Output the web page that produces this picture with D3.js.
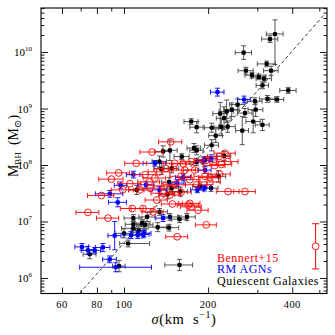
<!DOCTYPE html>
<html>
<head>
<meta charset="utf-8">
<script src="https://cdn.jsdelivr.net/npm/d3@7"></script>
<style>
  body { margin: 0; background: #fff; }
  svg { display: block; }
  text { font-family: "Liberation Serif", "DejaVu Serif", serif; fill: #000; }
  .frame { fill: none; stroke: #000; stroke-width: 1.1; }
  .axis path { display: none; }
  .axis line { stroke: #000; stroke-width: 0.9; }
</style>
</head>
<body>
<script>
// rows: [sigma (km/s), log M_BH, sigma error, log M error]; errors are symmetric or [lo, hi]
var quiescent = [
  [347, 10.32, 24, [0.54, 0.25]], [333, 10.23, 22, 0.06], [268, 9.99, 18, 0.12],
  [324, 9.79, 24, 0.05], [273, 9.67, 17, 0.06], [287, 9.59, 16, 0.05],
  [304, 9.56, 18, 0.05], [336, 9.67, 20, 0.08], [317, 9.53, 20, 0.06],
  [313, 9.41, 16, 0.06], [387, 9.32, 26, 0.05], [326, 9.17, 20, 0.06],
  [353, 9.16, 20, 0.05], [294, 9.13, 18, 0.06], [255, 9.07, 16, 0.1],
  [296, 8.98, 18, 0.12], [271, 8.92, 16, 0.08], [233, 8.95, 14, 0.2],
  [221, 8.91, 13, 0.2], [243, 8.98, 15, 0.12], [228, 8.83, 14, 0.2],
  [174, 8.77, 10, 0.05], [182, 8.67, 10, 0.1], [206, 8.66, 12, 0.08],
  [223, 8.67, 13, 0.15], [235, 8.68, 15, 0.1], [290, 8.77, 17, 0.2],
  [313, 8.71, 18, 0.1], [265, 8.61, 14, 0.25], [213, 8.52, 12, 0.12],
  [206, 8.35, 12, 0.1], [178, 8.30, 10, 0.08], [182, 8.26, 10, 0.08],
  [146, 8.26, 9, 0.18], [161, 8.15, 10, 0.05], [228, 8.16, 13, 0.08],
  [134, 8.06, 8, 0.1], [138, 8.24, 9, 0.1], [136, 7.93, 8, 0.1],
  [148, 7.94, 9, 0.08], [182, 8.05, 10, 0.06], [195, 8.09, 12, 0.06],
  [218, 7.80, 13, 0.1], [187, 7.62, 11, 0.06], [205, 7.59, 12, 0.06],
  [159, 7.53, 10, 0.08], [148, 7.59, 9, 0.06], [145, 7.70, 9, 0.08],
  [143, 7.48, 9, 0.08], [111, 7.56, 7, 0.08], [108, 7.06, 8, 0.06],
  [108, 6.88, 10, 0.08], [119, 6.94, 8, 0.06], [132, 6.90, 10, 0.08],
  [145, 6.89, 12, 0.06], [158, 7.04, 10, 0.06], [168, 7.08, 12, 0.06],
  [146, 7.08, 10, 0.06], [134, 7.17, 9, 0.06], [121, 7.08, 8, 0.08],
  [100, 6.79, 7, 0.08], [103.5, 6.61, [7, 20], 0.06], [96, 6.21, 5, 0.1],
  [75.4, 6.42, 4, 0.08], [158, 6.23, 18, 0.1], [113, 6.84, 7, 0.08],
  [108, 6.95, 7, 0.06], [116, 6.97, 8, 0.06]
];

var rmAgn = [
  [216, 9.29, 12, 0.07], [269, 9.16, 14, 0.06], [129, 8.03, 12, 0.05],
  [192, 8.08, 10, 0.06], [205, 8.12, 10, 0.06], [195, 7.91, 10, 0.06],
  [163, 7.78, 10, 0.06], [97.3, 7.64, 5, 0.06], [95, 7.34, 7, 0.08],
  [89, 7.49, 10, 0.06], [183, 7.56, 10, 0.05], [194, 7.59, 10, 0.05],
  [138, 7.06, 8, 0.06], [112, 6.76, 6, 0.06], [117, 6.77, 6, 0.06],
  [92.6, 6.75, 5, 0.25], [106, 6.76, 6, 0.06], [118, 6.79, 7, 0.06],
  [70.7, 6.55, 4, 0.06], [74.3, 6.49, 4, 0.07], [78.5, 6.49, 4, 0.05],
  [84, 6.54, 5, 0.07], [88.9, 6.33, 5, 0.06], [93.4, 6.19, [24, 32], 0.08],
  [108, 7.83, 6, 0.06], [120, 7.65, 8, 0.06], [134, 7.56, 8, 0.06],
  [155, 7.68, 9, 0.06]
];

// Bennert+15: no individual mass errors, shown by the typical bar instead
var bennert = [
  [147, 8.41, 14], [126, 8.23, 12], [110.6, 8.03, 10], [95.7, 7.86, 9],
  [90.2, 7.75, 9], [83, 7.46, 9], [74.3, 7.16, 7], [87.7, 7.06, 8],
  [99, 7.56, 9], [105, 7.67, 10], [107, 7.23, 10], [117, 7.23, 11],
  [127, 7.17, 11], [155, 6.73, 14], [197, 6.94, 17], [170, 7.29, 15],
  [172, 7.32, 15], [174, 7.26, 15], [236, 7.53, 22], [271, 7.53, 24],
  [146, 7.47, 13], [138, 7.50, 13], [160, 7.52, 14], [124, 7.59, 11],
  [152, 8.03, 14], [163, 8.02, 15], [174, 8.06, 15], [197, 8.09, 18],
  [219, 8.15, 20], [230, 8.21, 20], [235, 8.06, 21], [141, 7.94, 13],
  [220, 7.84, 20], [160, 7.80, 14], [195, 7.80, 17], [119, 7.83, 11],
  [129, 7.77, 12], [134, 7.88, 12], [172, 7.74, 15], [182, 7.65, 16],
  [203, 7.70, 18], [152, 7.65, 14], [123, 7.70, 11], [140, 7.63, 12],
  [165, 7.91, 15], [179, 7.91, 16], [211, 7.99, 19], [114, 7.56, 10],
  [131, 7.38, 12], [149, 7.31, 13], [184, 7.20, 16], [203, 7.78, 18],
  [223, 8.01, 20]
];
var bennertTypical = [485, 6.56, 0.4];

// McConnell & Ma (2013): log M = alpha + beta log(sigma / 200)
var fitAlpha = 8.32, fitBeta = 5.64;

var xTicks = [60, 80, 100, 200, 400];
var xMinor = [70, 90, 300, 500];
var yTicks = [6, 7, 8, 9, 10];

var legendNames = ["Bennert+15", "RM AGNs", "Quiescent Galaxies"];
var legendColors = ["#ff0000", "#0000ff", "#000000"];

var W = 335, H = 335;
var pLeft = 41, pRight = 327, pTop = 8, pBottom = 293.5;

var x = d3.scaleLog().domain([Math.pow(10, 1.703), Math.pow(10, 2.7265)]).range([pLeft, pRight]);
var y = d3.scaleLog().domain([Math.pow(10, 5.725), Math.pow(10, 10.78)]).range([pBottom, pTop]);

var svg = d3.select("body").append("svg")
  .attr("width", W)
  .attr("height", H);

svg.append("defs").append("clipPath").attr("id", "clip")
  .append("rect")
  .attr("x", pLeft).attr("y", pTop)
  .attr("width", pRight - pLeft).attr("height", pBottom - pTop);

// ticks
var yMinor = [];
[5, 6, 7, 8, 9, 10].forEach(function (e) {
  for (var k = 2; k <= 9; k++) {
    var v = k * Math.pow(10, e);
    if (v > y.domain()[0] && v < y.domain()[1]) yMinor.push(v);
  }
});
var yMajor = yTicks.map(function (e) { return Math.pow(10, e); });

function addAxis(axis, tx, ty) {
  svg.append("g").attr("class", "axis")
    .attr("transform", "translate(" + tx + "," + ty + ")")
    .call(axis)
    .selectAll("text").remove();
}
addAxis(d3.axisBottom(x).tickValues(xTicks).tickSize(-6), 0, pBottom);
addAxis(d3.axisBottom(x).tickValues(xMinor).tickSize(-3.5), 0, pBottom);
addAxis(d3.axisTop(x).tickValues(xTicks).tickSize(-6), 0, pTop);
addAxis(d3.axisTop(x).tickValues(xMinor).tickSize(-3.5), 0, pTop);
addAxis(d3.axisLeft(y).tickValues(yMajor).tickSize(-7), pLeft, 0);
addAxis(d3.axisLeft(y).tickValues(yMinor).tickSize(-3.5), pLeft, 0);
addAxis(d3.axisRight(y).tickValues(yMajor).tickSize(-7), pRight, 0);
addAxis(d3.axisRight(y).tickValues(yMinor).tickSize(-3.5), pRight, 0);

// tick labels
svg.append("g").selectAll("text")
  .data(xTicks)
  .enter().append("text")
  .attr("x", function (d) { return x(d); })
  .attr("y", 307.5)
  .attr("text-anchor", "middle")
  .style("font-size", "10.5px")
  .style("letter-spacing", "0.4px")
  .text(function (d) { return d; });

var yl = svg.append("g").selectAll("text")
  .data(yTicks)
  .enter().append("text")
  .attr("x", 32)
  .attr("y", function (d) { return y(Math.pow(10, d)) + 4; })
  .attr("text-anchor", "end")
  .style("font-size", "11px");
yl.append("tspan").text("10");
yl.append("tspan")
  .attr("dy", -5)
  .style("font-size", "7px")
  .text(function (d) { return d; });

// fit line
var fitSigma = d3.range(1.70, 2.73, 0.01).map(function (l) { return Math.pow(10, l); });
var plot = svg.append("g").attr("clip-path", "url(#clip)");
plot.append("path")
  .datum(fitSigma)
  .attr("fill", "none")
  .attr("stroke", "#000")
  .attr("stroke-width", 0.8)
  .attr("stroke-dasharray", "3.5,2.5")
  .attr("d", d3.line()
    .x(function (s) { return x(s); })
    .y(function (s) { return y(Math.pow(10, fitAlpha + fitBeta * Math.log10(s / 200))); }));

function pair(e) { return Array.isArray(e) ? e : [e, e]; }

function drawErrors(g, rows, color, width) {
  var cap = 2.5;
  rows.forEach(function (r) {
    var se = pair(r[2]);
    var cx = x(r[0]), cy = y(Math.pow(10, r[1]));
    var x0 = x(r[0] - se[0]), x1 = x(r[0] + se[1]);
    var p = "M" + x0 + "," + cy + "H" + x1 +
      "M" + x0 + "," + (cy - cap) + "V" + (cy + cap) +
      "M" + x1 + "," + (cy - cap) + "V" + (cy + cap);
    if (r.length > 3) {
      var me = pair(r[3]);
      var y0 = y(Math.pow(10, r[1] - me[0])), y1 = y(Math.pow(10, r[1] + me[1]));
      p += "M" + cx + "," + y0 + "V" + y1 +
        "M" + (cx - cap) + "," + y0 + "H" + (cx + cap) +
        "M" + (cx - cap) + "," + y1 + "H" + (cx + cap);
    }
    g.append("path")
      .attr("d", p)
      .attr("fill", "none")
      .attr("stroke", color)
      .attr("stroke-width", width);
  });
}

// quiescent galaxies
var gq = plot.append("g");
drawErrors(gq, quiescent, "#444", 0.9);
gq.selectAll("rect")
  .data(quiescent)
  .enter().append("rect")
  .attr("x", function (d) { return x(d[0]) - 2.1; })
  .attr("y", function (d) { return y(Math.pow(10, d[1])) - 2.1; })
  .attr("width", 4.2)
  .attr("height", 4.2)
  .attr("rx", 1)
  .attr("fill", "#000");

// RM AGNs
var gb = plot.append("g");
drawErrors(gb, rmAgn, "#0000ff", 0.9);
gb.selectAll("rect")
  .data(rmAgn)
  .enter().append("rect")
  .attr("x", function (d) { return x(d[0]) - 2.1; })
  .attr("y", function (d) { return y(Math.pow(10, d[1])) - 2.1; })
  .attr("width", 4.2)
  .attr("height", 4.2)
  .attr("rx", 1)
  .attr("fill", "#0000ff");

// Bennert+15
var gr = plot.append("g");
drawErrors(gr, bennert, "#ff0000", 0.9);
gr.selectAll("circle")
  .data(bennert)
  .enter().append("circle")
  .attr("cx", function (d) { return x(d[0]); })
  .attr("cy", function (d) { return y(Math.pow(10, d[1])); })
  .attr("r", 3.4)
  .attr("fill", "none")
  .attr("stroke", "#ff0000")
  .attr("stroke-width", 0.9);

// typical error of Bennert+15 masses
var tx = x(bennertTypical[0]), ty = y(Math.pow(10, bennertTypical[1]));
var ty0 = y(Math.pow(10, bennertTypical[1] - bennertTypical[2]));
var ty1 = y(Math.pow(10, bennertTypical[1] + bennertTypical[2]));
svg.append("path")
  .attr("d", "M" + tx + "," + ty0 + "V" + ty1 +
    "M" + (tx - 3.5) + "," + ty0 + "H" + (tx + 3.5) +
    "M" + (tx - 3.5) + "," + ty1 + "H" + (tx + 3.5))
  .attr("stroke", "#ff0000")
  .attr("stroke-width", 1);
svg.append("circle")
  .attr("cx", tx).attr("cy", ty).attr("r", 3.4)
  .attr("fill", "#fff")
  .attr("stroke", "#ff0000")
  .attr("stroke-width", 0.9);

// frame
svg.append("rect")
  .attr("class", "frame")
  .attr("x", pLeft).attr("y", pTop)
  .attr("width", pRight - pLeft).attr("height", pBottom - pTop);

// legend
svg.append("g").selectAll("text")
  .data(legendNames)
  .enter().append("text")
  .attr("x", 217)
  .attr("y", function (d, i) { return 262 + i * 11.3; })
  .style("font-size", "12px")
  .style("letter-spacing", "0.5px")
  .style("fill", function (d, i) { return legendColors[i]; })
  .text(function (d) { return d; });

// axis titles
var xt = svg.append("text")
  .attr("x", 184)
  .attr("y", 324)
  .attr("text-anchor", "middle")
  .style("font-size", "14.5px")
  .style("letter-spacing", "0.6px");
xt.append("tspan").style("font-style", "italic").text("σ");
xt.append("tspan").text("(km\u00a0 s");
xt.append("tspan").attr("dy", -6).style("font-size", "10px").text("−1");
xt.append("tspan").attr("dy", 6).text(")");

var yt = svg.append("text")
  .attr("transform", "translate(18,146)rotate(-90)")
  .attr("text-anchor", "middle")
  .style("font-size", "14px");
yt.append("tspan").text("M");
yt.append("tspan").attr("dy", 3).style("font-size", "9px").text("BH");
yt.append("tspan").attr("dy", -3).text("\u00a0 (M");
yt.append("tspan").attr("dy", 3).style("font-size", "10px").text("⊙");
yt.append("tspan").attr("dy", -3).text(")");
</script>
</body>
</html>
